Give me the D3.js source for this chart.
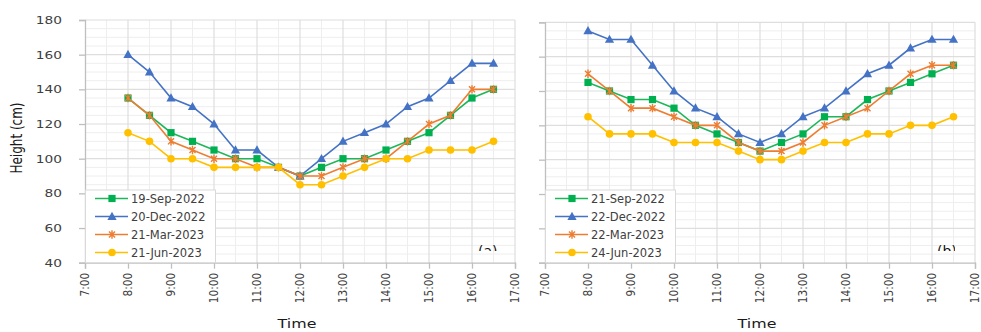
<!DOCTYPE html>
<html>
<head>
<meta charset="utf-8">
<script src="https://cdn.jsdelivr.net/npm/d3@7"></script>
<style>
  html, body { margin: 0; padding: 0; background: #fff; }
  svg { display: block; }
  text { font-family: "DejaVu Sans", sans-serif; }
</style>
</head>
<body>
<svg id="chart" width="981" height="332"></svg>
<script>
// Sampling times (decimal hours), 8:00 to 16:30 every half hour
const times = [8, 8.5, 9, 9.5, 10, 10.5, 11, 11.5, 12, 12.5, 13, 13.5, 14, 14.5, 15, 15.5, 16, 16.5];
const hourTicks = [7, 8, 9, 10, 11, 12, 13, 14, 15, 16, 17];
const hourLabels = ["7:00", "8:00", "9:00", "10:00", "11:00", "12:00", "13:00", "14:00", "15:00", "16:00", "17:00"];
const heightTicks = [40, 60, 80, 100, 120, 140, 160, 180];

// Panel (a)
const datesA = ["19-Sep-2022", "20-Dec-2022", "21-Mar-2023", "21-Jun-2023"];
const sep2022 = [135, 125, 115, 110, 105, 100, 100, 95, 90, 95, 100, 100, 105, 110, 115, 125, 135, 140];
const dec2022 = [160, 150, 135, 130, 120, 105, 105, 95, 90, 100, 110, 115, 120, 130, 135, 145, 155, 155];
const mar2023 = [135, 125, 110, 105, 100, 100, 95, 95, 90, 90, 95, 100, 100, 110, 120, 125, 140, 140];
const jun2023 = [115, 110, 100, 100, 95, 95, 95, 95, 85, 85, 90, 95, 100, 100, 105, 105, 105, 110];

// Panel (b)
const datesB = ["21-Sep-2022", "22-Dec-2022", "22-Mar-2023", "24-Jun-2023"];
const sep2022b = [145, 140, 135, 135, 130, 120, 115, 110, 105, 110, 115, 125, 125, 135, 140, 145, 150, 155];
const dec2022b = [175, 170, 170, 155, 140, 130, 125, 115, 110, 115, 125, 130, 140, 150, 155, 165, 170, 170];
const mar2023b = [150, 140, 130, 130, 125, 120, 120, 110, 105, 105, 110, 120, 125, 130, 140, 150, 155, 155];
const jun2023b = [125, 115, 115, 115, 110, 110, 110, 105, 100, 100, 105, 110, 110, 115, 115, 120, 120, 125];

const colors = ["#1fb65a", "#4472c4", "#ed7d31", "#ffc000"];
const markerKinds = ["square", "triangle", "star", "circle"];

const svg = d3.select("#chart");

function drawMarker(g, kind, color, x, y) {
  if (kind === "square") {
    g.append("rect").attr("x", x - 3.6).attr("y", y - 3.6).attr("width", 7.2).attr("height", 7.2)
      .attr("fill", "#00b050");
  } else if (kind === "triangle") {
    g.append("path").attr("d", `M${x},${y - 4.8}L${x + 4.6},${y + 3.4}L${x - 4.6},${y + 3.4}Z`)
      .attr("fill", color);
  } else if (kind === "star") {
    const r = 4.2, d = r * 0.72;
    g.append("path")
      .attr("d", `M${x - d},${y - d}L${x + d},${y + d}M${x - d},${y + d}L${x + d},${y - d}M${x},${y - r}L${x},${y + r}`)
      .attr("stroke", color).attr("stroke-width", 1.4).attr("fill", "none");
  } else {
    g.append("circle").attr("cx", x).attr("cy", y).attr("r", 3.8).attr("fill", color);
  }
}

function panel(opts) {
  const { x0, x1, yTop, yBottom, series, dates, showYLabels, tag, tagX } = opts;
  const x = d3.scaleLinear().domain([7, 17]).range([x0, x1]);
  const y = d3.scaleLinear().domain([40, 180]).range([yBottom, yTop]);
  const g = svg.append("g");

  // minor grid
  const minorY = d3.range(45, 180, 5).filter(v => v % 20 !== 0);
  g.append("g").selectAll("line").data(minorY).join("line")
    .attr("x1", x0).attr("x2", x1).attr("y1", d => y(d)).attr("y2", d => y(d))
    .attr("stroke", "#eeeeee").attr("stroke-width", 1);
  const minorX = d3.range(7.5, 17, 1);
  g.append("g").selectAll("line").data(minorX).join("line")
    .attr("x1", d => x(d)).attr("x2", d => x(d)).attr("y1", yTop).attr("y2", yBottom)
    .attr("stroke", "#eeeeee").attr("stroke-width", 1);

  // major grid
  g.append("g").selectAll("line").data(heightTicks.slice(1)).join("line")
    .attr("x1", x0).attr("x2", x1).attr("y1", d => y(d)).attr("y2", d => y(d))
    .attr("stroke", "#dedede").attr("stroke-width", 1.2);
  g.append("g").selectAll("line").data(hourTicks.slice(1)).join("line")
    .attr("x1", d => x(d)).attr("x2", d => x(d)).attr("y1", yTop).attr("y2", yBottom)
    .attr("stroke", "#dedede").attr("stroke-width", 1.2);

  // axes
  const yAxis = g.append("g").attr("transform", `translate(${x0},0)`)
    .call(d3.axisLeft(y).tickValues(heightTicks).tickSize(6).tickFormat(""));
  yAxis.select(".domain").attr("stroke", "#bfbfbf").attr("stroke-width", 1.3);
  yAxis.selectAll(".tick line").attr("stroke", "#bfbfbf").attr("stroke-width", 1.3);

  const xAxis = g.append("g").attr("transform", `translate(0,${yBottom})`)
    .call(d3.axisBottom(x).tickValues(hourTicks).tickSize(6).tickFormat(""));
  xAxis.select(".domain").attr("stroke", "#bfbfbf").attr("stroke-width", 1.3);
  xAxis.selectAll(".tick line").attr("stroke", "#bfbfbf").attr("stroke-width", 1.3);

  if (showYLabels) {
    g.append("g").selectAll("text").data(heightTicks).join("text")
      .attr("transform", d => `translate(62,${y(d)}) scale(1.27,1)`)
      .attr("text-anchor", "end").attr("dy", "0.36em")
      .attr("font-size", 10.8).attr("fill", "#404040")
      .text(d => d);
  }

  g.append("g").selectAll("text").data(hourTicks).join("text")
    .attr("transform", d => `translate(${x(d)},${yBottom + 10}) scale(1.2,1) rotate(-90)`)
    .attr("text-anchor", "end").attr("dy", "0.33em")
    .attr("font-size", 10.6).attr("fill", "#404040")
    .text((d, i) => hourLabels[i]);

  // panel tag, partly hidden behind the legend band
  const clipId = "clip-" + tag;
  svg.append("defs").append("clipPath").attr("id", clipId)
    .append("rect").attr("x", tagX - 2).attr("y", 238).attr("width", opts.tagW).attr("height", 13);
  g.append("text").attr("clip-path", `url(#${clipId})`)
    .attr("x", tagX).attr("y", 256).attr("font-size", 14).attr("fill", "#111")
    .text(`(${tag})`);

  // series
  const line = d3.line().x((d, i) => x(times[i])).y(d => y(d));
  series.forEach((vals, s) => {
    const sg = g.append("g");
    sg.append("path").datum(vals).attr("d", line)
      .attr("fill", "none").attr("stroke", colors[s]).attr("stroke-width", 1.6);
    vals.forEach((v, i) => drawMarker(sg, markerKinds[s], colors[s], x(times[i]), y(v)));
  });

  // legend
  const lx = x0, ly = 190, lw = 130, lh = yBottom - 190;
  const lg = g.append("g");
  lg.append("rect").attr("x", lx + 0.5).attr("y", ly).attr("width", lw).attr("height", lh)
    .attr("fill", "#fff").attr("stroke", "#d9d9d9");
  dates.forEach((d, s) => {
    const cy = ly + 8.5 + s * 18;
    lg.append("line").attr("x1", lx + 10).attr("x2", lx + 43).attr("y1", cy).attr("y2", cy)
      .attr("stroke", colors[s]).attr("stroke-width", 1.6);
    drawMarker(lg, markerKinds[s], colors[s], lx + 27, cy);
    lg.append("text").attr("x", lx + 46).attr("y", cy).attr("dy", "0.36em")
      .attr("font-size", 11.5).attr("fill", "#404040").text(d);
  });

  // x axis title
  g.append("text")
    .attr("transform", `translate(${opts.timeX},328) scale(1.27,1)`)
    .attr("text-anchor", "middle").attr("font-size", 12.5).attr("fill", "#1a1a1a")
    .text("Time");
}

panel({
  x0: 85, x1: 515, yTop: 20, yBottom: 262.7,
  series: [sep2022, dec2022, mar2023, jun2023], dates: datesA,
  showYLabels: true, tag: "a", tagX: 478, tagW: 26, timeX: 297
});
panel({
  x0: 545, x1: 975, yTop: 22.3, yBottom: 262.7,
  series: [sep2022b, dec2022b, mar2023b, jun2023b], dates: datesB,
  showYLabels: false, tag: "b", tagX: 937, tagW: 20, timeX: 757
});

// y axis title
svg.append("text")
  .attr("transform", "translate(16,138) scale(1.27,1) rotate(-90)")
  .attr("text-anchor", "middle").attr("dy", "0.36em")
  .attr("font-size", 12).attr("fill", "#1a1a1a")
  .text("Height (cm)");
</script>
</body>
</html>
